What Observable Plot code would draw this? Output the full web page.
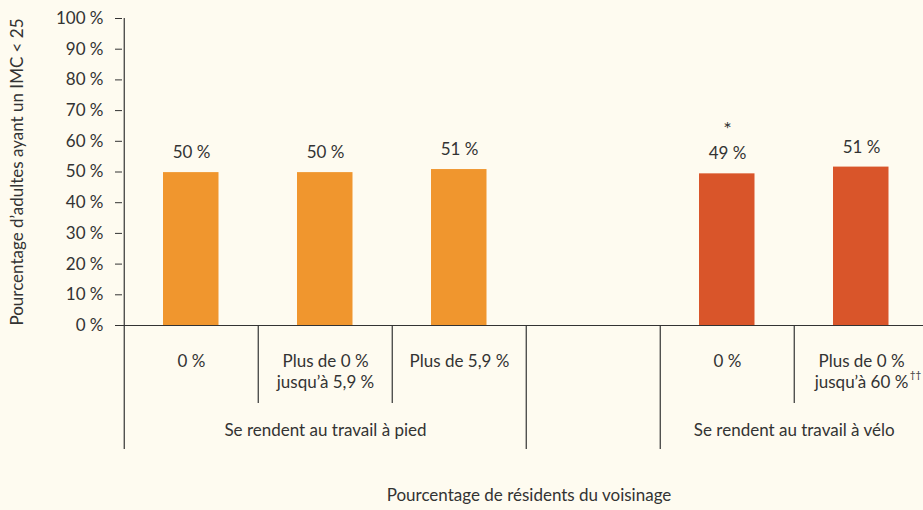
<!DOCTYPE html>
<html>
<head>
<meta charset="utf-8">
<script src="https://cdn.jsdelivr.net/npm/d3@7"></script>
<script src="https://cdn.jsdelivr.net/npm/@observablehq/plot@0.6"></script>
<style>
  html, body { margin: 0; padding: 0; background: #fefbf0; }
  #chart svg { display: block; }
</style>
</head>
<body>
<div id="chart"></div>
<script>
// ---- Data ----
const categories = ["p0", "p1", "p2", "gap", "v0", "v1"];
const groups = ["pied", "pied", "pied", null, "velo", "velo"];
const tickLabels = ["0 %", "Plus de 0 %\njusqu’à 5,9 %", "Plus de 5,9 %", "", "0 %", "Plus de 0 %\njusqu’à 60 %"];
const values = [49.8, 49.8, 50.8, null, 49.4, 51.6];
const valueLabels = ["50 %", "50 %", "51 %", "", "49 %", "51 %"];
const significance = ["", "", "", "", "*", ""];
const footnoteMarks = ["", "", "", "", "", "††"];
const longDividers = ["gap", "v0"];
const shortDividers = ["p1", "p2", "v1"];
const groupLabels = ["Se rendent au travail à pied", "Se rendent au travail à vélo"];
const groupLabelAt = ["p1", "v1"];
const yTicks = [0, 10, 20, 30, 40, 50, 60, 70, 80, 90, 100];
const yTitle = "Pourcentage d’adultes ayant un IMC < 25";
const xTitle = "Pourcentage de résidents du voisinage";

const rows = categories.map((c, i) => ({
  cat: c, group: groups[i], value: values[i], label: valueLabels[i],
  sig: significance[i], foot: footnoteMarks[i]
}));
const bars = rows.filter(d => d.value != null);

const W = 923, H = 510;
const ML = 122, MT = 18, MB = 185;
const xRange = [122, 929];
const bw = (xRange[1] - xRange[0]) / categories.length;
const ink = "#333333";
const orange = "#f0962e";
const red = "#d9552a";
const fs = 17;

const chart = Plot.plot({
  width: W,
  height: H,
  marginLeft: ML,
  marginRight: 0,
  marginTop: MT,
  marginBottom: MB,
  style: { background: "#fefbf0", fontFamily: "Lato, 'Open Sans', sans-serif", fontSize: fs + "px", color: ink },
  x: { type: "band", domain: categories, range: xRange, padding: 0 },
  y: { domain: [0, 100] },
  color: { domain: ["pied", "velo"], range: [orange, red] },
  marks: [
    Plot.barY(bars, { x: "cat", y: "value", fill: "group", insetLeft: 39, insetRight: 39.5 }),
    Plot.text(bars, { x: "cat", y: "value", text: "label", dy: -20, fontSize: fs, fill: ink }),
    Plot.text(bars.filter(d => d.sig), { x: "cat", y: "value", text: "sig", dy: -44, fontSize: 20, fill: ink }),
    // x axis baseline
    Plot.ruleY([0], { stroke: ink, strokeWidth: 1.2, insetLeft: -7 }),
    // y axis line (extends below as first group divider)
    Plot.ruleX([categories[0]], { x: d => d, dx: -bw / 2, stroke: ink, strokeWidth: 1.2, insetBottom: -124 }),
    // group dividers below axis
    Plot.ruleX(longDividers, { x: d => d, dx: -bw / 2, stroke: ink, strokeWidth: 1.2, insetTop: 307, insetBottom: -124 }),
    Plot.ruleX(shortDividers, { x: d => d, dx: -bw / 2, stroke: ink, strokeWidth: 1.2, insetTop: 307, insetBottom: -78 }),
    Plot.axisY({
      ticks: yTicks, tickFormat: d => d + " %", tickSize: 7, tickPadding: 12,
      fontSize: fs, stroke: ink, color: ink,
      label: yTitle, labelAnchor: "center", labelOffset: 112, labelArrow: "none"
    }),
    Plot.axisX({
      tickSize: 0, tickPadding: 26, fontSize: fs, lineHeight: 1.25, color: ink,
      tickFormat: d => tickLabels[categories.indexOf(d)], label: null
    }),
    Plot.text(rows.filter(d => d.foot), { x: "cat", text: "foot", frameAnchor: "bottom", dy: 52, dx: 54, fontSize: 10, fill: ink }),
    Plot.text([groupLabels[0]], { x: () => groupLabelAt[0], text: d => d, frameAnchor: "bottom", dy: 110, fontSize: fs, fill: ink }),
    Plot.text([groupLabels[1]], { x: () => groupLabelAt[1], text: d => d, frameAnchor: "bottom", dy: 110, dx: -bw / 2, fontSize: fs, fill: ink }),
    Plot.text([xTitle], { text: d => d, frameAnchor: "bottom", dy: 175, dx: 6, fontSize: fs, fill: ink })
  ]
});
document.getElementById("chart").appendChild(chart);
</script>
</body>
</html>
